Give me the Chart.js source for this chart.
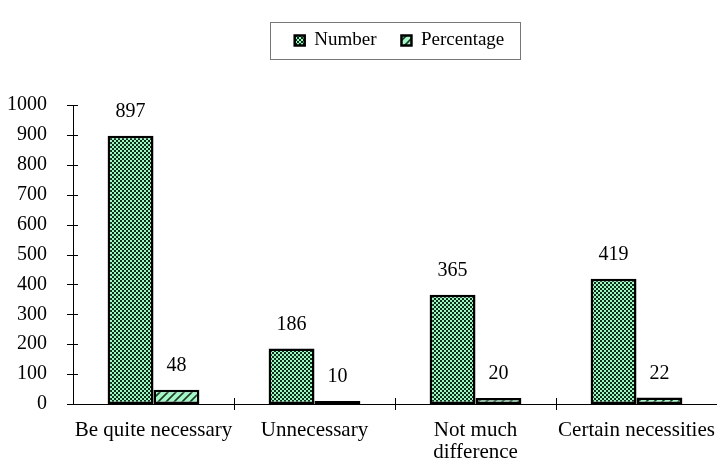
<!DOCTYPE html>
<html>
<head>
<meta charset="utf-8">
<script src="https://cdn.jsdelivr.net/npm/chart.js@4.4.0/dist/chart.umd.min.js"></script>
<style>
  html, body { margin: 0; padding: 0; background: #fff; }
</style>
</head>
<body>
<canvas id="chart" width="717" height="459"></canvas>
<script>
const categories = ['Be quite necessary', 'Unnecessary', ['Not much', 'difference'], 'Certain necessities'];
const numberValues = [897, 186, 365, 419];
const percentValues = [48, 10, 20, 22];
const yTicks = [0, 100, 200, 300, 400, 500, 600, 700, 800, 900, 1000];

const FONT = "'Liberation Serif', 'Times New Roman', serif";

function checkerPattern() {
  const c = document.createElement('canvas');
  c.width = 4; c.height = 4;
  const g = c.getContext('2d');
  g.fillStyle = '#9cf7c0';
  g.fillRect(0, 0, 4, 4);
  g.fillStyle = '#0e2e1a';
  g.fillRect(0, 0, 2, 2);
  g.fillRect(2, 2, 2, 2);
  return g.createPattern(c, 'repeat');
}

function hatchPattern() {
  const c = document.createElement('canvas');
  c.width = 8; c.height = 8;
  const g = c.getContext('2d');
  g.fillStyle = '#a6f7c8';
  g.fillRect(0, 0, 8, 8);
  g.strokeStyle = '#1c3a26';
  g.lineWidth = 1.6;
  g.beginPath();
  g.moveTo(-1, 9); g.lineTo(9, -1);
  g.moveTo(-5, 5); g.lineTo(5, -5);
  g.moveTo(3, 13); g.lineTo(13, 3);
  g.stroke();
  return g.createPattern(c, 'repeat');
}

// legend placement and frame, crossing tick marks, value labels
const extras = {
  id: 'extras',
  beforeInit(chart) {
    const lg = chart.legend;
    const origFit = lg.fit;
    lg.fit = function () {
      origFit.call(this);
      this.height = 100;
    };
    const origDraw = lg.draw;
    lg.draw = function () {
      const ctx = this.ctx;
      ctx.save();
      ctx.translate(41, 1);
      origDraw.call(this);
      ctx.restore();
    };
  },
  afterDraw(chart) {
    const ctx = chart.ctx;
    const area = chart.chartArea;
    const y = chart.scales.y;
    ctx.save();
    // legend frame
    ctx.strokeStyle = '#777';
    ctx.lineWidth = 1;
    ctx.strokeRect(270.5, 22.5, 250, 37);
    // y ticks
    ctx.strokeStyle = '#000';
    ctx.beginPath();
    yTicks.forEach(v => {
      const py = Math.round(y.getPixelForValue(v)) + 0.5;
      ctx.moveTo(area.left - 6, py);
      ctx.lineTo(area.left + 5, py);
    });
    // x category separators
    const w = (area.right - area.left) / categories.length;
    for (let i = 1; i < categories.length; i++) {
      const px = Math.round(area.left + i * w) + 0.5;
      ctx.moveTo(px, area.bottom - 6);
      ctx.lineTo(px, area.bottom + 6);
    }
    ctx.stroke();
    ctx.restore();
  },
  afterDatasetsDraw(chart) {
    const ctx = chart.ctx;
    ctx.save();
    ctx.fillStyle = '#000';
    ctx.font = '20px ' + FONT;
    ctx.textAlign = 'center';
    ctx.textBaseline = 'middle';
    chart.data.datasets.forEach((ds, di) => {
      chart.getDatasetMeta(di).data.forEach((bar, i) => {
        ctx.fillText(String(ds.data[i]), bar.x, bar.y - 24);
      });
    });
    ctx.restore();
  }
};

const ctx = document.getElementById('chart').getContext('2d');
new Chart(ctx, {
  type: 'bar',
  data: {
    labels: categories,
    datasets: [
      {
        label: 'Number',
        data: numberValues,
        backgroundColor: checkerPattern(),
        borderColor: '#000',
        borderWidth: 2.5,
        borderSkipped: false
      },
      {
        label: 'Percentage',
        data: percentValues,
        backgroundColor: hatchPattern(),
        borderColor: '#000',
        borderWidth: 2.5,
        borderSkipped: false
      }
    ]
  },
  options: {
    responsive: false,
    animation: false,
    devicePixelRatio: 1,
    layout: { padding: { top: 5, left: 0, right: 0, bottom: 0 } },
    datasets: { bar: { barPercentage: 1, categoryPercentage: 0.57 } },
    plugins: {
      legend: {
        position: 'top',
        labels: {
          boxWidth: 10,
          boxHeight: 10,
          padding: 25,
          color: '#000',
          font: { family: FONT, size: 19 }
        }
      },
      tooltip: { enabled: false }
    },
    scales: {
      x: {
        grid: { display: false },
        border: { display: true, color: '#000', width: 1 },
        ticks: {
          color: '#000',
          maxRotation: 0,
          autoSkip: false,
          padding: 7,
          font: { family: FONT, size: 21, lineHeight: 1.05 }
        },
        afterFit(scale) {
          scale.height = 55;
          scale.paddingLeft = 0;
          scale.paddingRight = 0;
        }
      },
      y: {
        min: 0,
        max: 1000,
        grid: { display: false },
        border: { display: true, color: '#000', width: 1 },
        afterBuildTicks(scale) { scale.ticks = yTicks.map(v => ({ value: v })); },
        ticks: {
          color: '#000',
          padding: 18,
          font: { family: FONT, size: 20 },
          callback: v => String(v)
        },
        afterFit(scale) { scale.width = 73; }
      }
    }
  },
  plugins: [extras]
});
</script>
</body>
</html>
